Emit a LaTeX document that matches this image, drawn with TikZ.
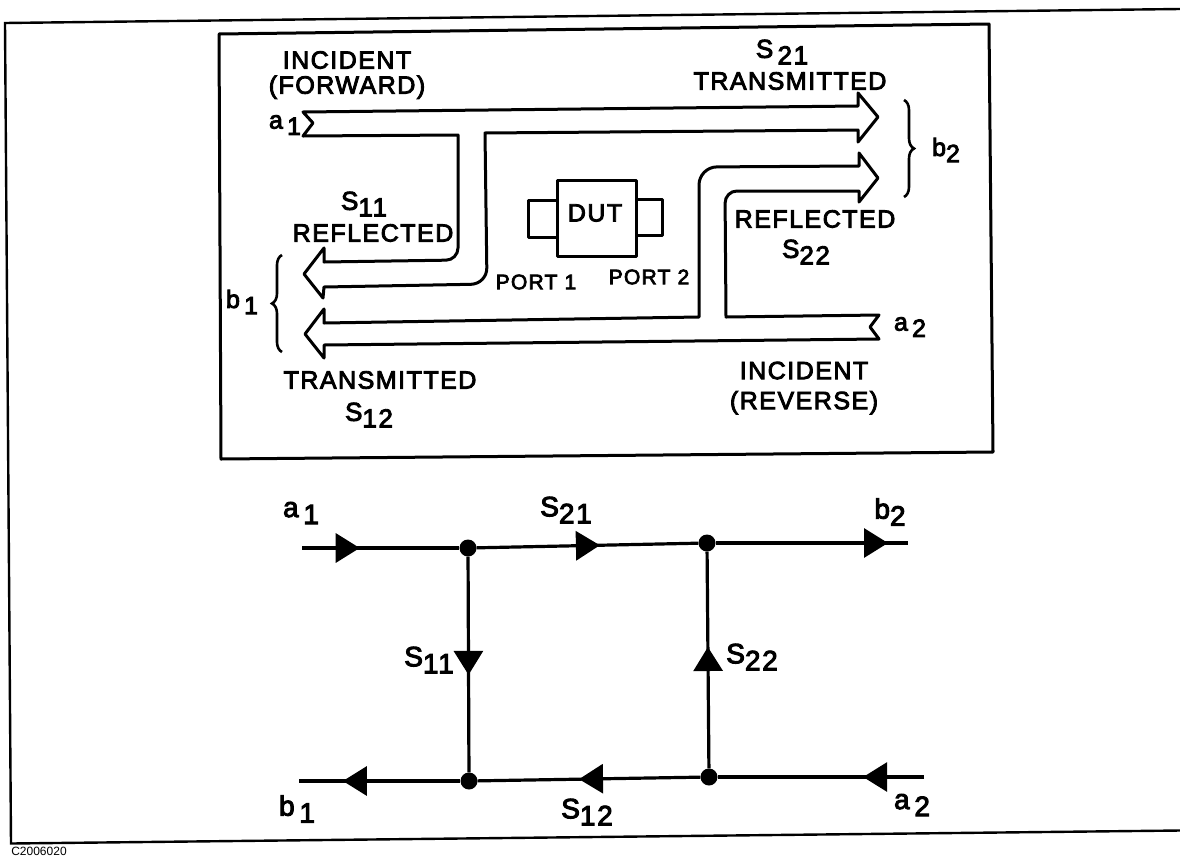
\documentclass[tikz,border=0pt]{standalone}
\usepackage{fontspec}
\setmainfont{Liberation Sans}[LetterSpace=6,FakeBold=3.5]
\newfontfamily\tinyfont{Liberation Sans}
\usetikzlibrary{positioning, arrows.meta, decorations.markings, decorations.pathreplacing}

\newcommand{\sgn}[2]{#1\raisebox{-.25em}{#2}}

\tikzset{
  frameline/.style={line width=2.4pt},
  bigarrow/.style={line width=3pt, line join=round},
  signal/.style={draw, line width=3.2pt},
  junction/.style={circle, fill=black, inner sep=0pt, minimum size=17pt},
  lbl/.style={inner sep=0pt, align=center, font=\fontsize{25}{25}\selectfont},
  biglbl/.style={inner sep=0pt, font=\fontsize{28}{28}\selectfont},
  portlbl/.style={inner sep=0pt, font=\fontsize{21}{21}\selectfont},
  tipat/.style={postaction={decorate}, decoration={markings,
      mark=at position #1 with {\arrow{Triangle[length=24pt,width=29pt]}}}},
  curly/.style={line width=2.6pt, decorate, decoration={brace, amplitude=10pt}}
}

\begin{document}
\begin{tikzpicture}[x=1pt, y=-1pt, on grid]
                \useasboundingbox (0,0) rectangle (1180,857);

                % outer and inner frames
                \draw[frameline] (1180,9) -- (5,23) -- (11,843.5) -- (1180,830.5);
                \draw[bigarrow] (219,34) -- (989,24) -- (993,452) -- (221,459) -- cycle;

                % hollow arrows
                \draw[bigarrow] (303,112) -- (858,106) -- (858,93) -- (878,117) -- (858,142) -- (858,130)
                -- (485,133) [rounded corners=16pt] -- (487,284) [sharp corners] -- (324,287) -- (323,298)
                -- (304,274) -- (324,248) -- (324,262) [rounded corners=12pt] -- (458,260) [sharp corners]
                -- (458,135) -- (303,136) -- (313,123) -- cycle;
                \draw[bigarrow] (879,315) -- (726,317) [rounded corners=12pt] -- (725,191) [sharp corners]
                -- (859,191) -- (859,202) -- (878,178) -- (859,153) -- (859,166)
                [rounded corners=18pt] -- (699,167) [sharp corners] -- (699,317) -- (324,323) -- (324,309)
                -- (305,334) -- (324,358) -- (324,345) -- (879,339) -- (870,327) -- cycle;

                % device
                \draw[bigarrow] (557,180) rectangle (636,256);
                \draw[bigarrow] (557,200) -- (528,200) -- (528,237) -- (557,237);
                \draw[bigarrow] (636,199) -- (662,199) -- (662,235) -- (636,235);
                \draw[curly] (282,352) -- (282,255);
                \draw[curly] (904,100) -- (904,197);

                \node[lbl] (incfwd) at (347,75) {INCIDENT\\(FORWARD)};
                \node[lbl] (aone) at (285,125) {\sgn{a\,}{1}};
                \node[lbl, font=\fontsize{26}{26}\selectfont] (sone) at (364,204) {\sgn{S}{11}};
                \node[lbl] (reflone) at (373,233) {REFLECTED};
                \node[lbl] (bone) at (242,302) {\sgn{b\,}{1}};
                \node[lbl] (transone) at (380,380) {TRANSMITTED};
                \node[lbl, font=\fontsize{26}{26}\selectfont] (stwelve) at (369,415) {\sgn{S}{12}};
                \node[portlbl] (portone) at (536,282) {PORT 1};
                \node[portlbl] (porttwo) at (649,277) {PORT 2};
                \node[lbl] (dut) at (595,213) {DUT};
                \node[lbl, font=\fontsize{26}{26}\selectfont] (stwone) at (782,52) {\sgn{S\,}{21}};
                \node[lbl] (transtwo) at (790,81) {TRANSMITTED};
                \node[lbl] (btwo) at (946,150) {\sgn{b}{2}};
                \node[lbl] (refltwo) at (815,219) {REFLECTED};
                \node[lbl, font=\fontsize{26}{26}\selectfont] (stwtwo) at (806,252) {\sgn{S}{22}};
                \node[lbl] (atwo) at (910,327) {\sgn{a\,}{2}};
                \node[lbl] (increv) at (804,388) {INCIDENT\\[5pt](REVERSE)};

                % signal flow graph
                \node[junction] (J1) at (468,548) {};
                \node[junction] (J2) [above right=5pt and 239pt of J1] {};
                \node[junction] (J3) [below right=233pt and 1pt of J1] {};
                \node[junction] (J4) [below right=234pt and 2pt of J2] {};
                \coordinate[left=166pt of J1] (A1);
                \coordinate[right=201pt of J2] (B2);
                \coordinate[left=170pt of J3] (B1);
                \coordinate[right=215pt of J4] (A2);

                \path[signal]
                (A1) edge[tipat=.367] (J1)
                (J1) edge[tipat=.556] (J2)
                (J2) edge[tipat=.896] (B2)
                (J1) edge[tipat=.548] (J3)
                (J4) edge[tipat=.56] (J2)
                (A2) edge[tipat=.295] (J4)
                (J4) edge[tipat=.545] (J3)
                (J3) edge[tipat=.728] (B1);

                \node[biglbl] (a1lbl) at (301,513) {\sgn{a\,}{1}};
                \node[biglbl] (s21lbl) at (566,510) {\sgn{S}{21}};
                \node[biglbl] (b2lbl) at (890,512) {\sgn{b}{2}};
                \node[biglbl] (s11lbl) at (429,660) {\sgn{S}{11}};
                \node[biglbl] (s22lbl) at (752,657) {\sgn{S}{22}};
                \node[biglbl] (b1lbl) at (297,809) {\sgn{b\,}{1}};
                \node[biglbl] (s12lbl) at (587,812) {\sgn{S}{12}};
                \node[biglbl] (a2lbl) at (912,805) {\sgn{a\,}{2}};

                \node[inner sep=0pt, font=\tinyfont\fontsize{12}{12}\selectfont] (code) at (39,851) {C2006020};
\end{tikzpicture}
\end{document}
